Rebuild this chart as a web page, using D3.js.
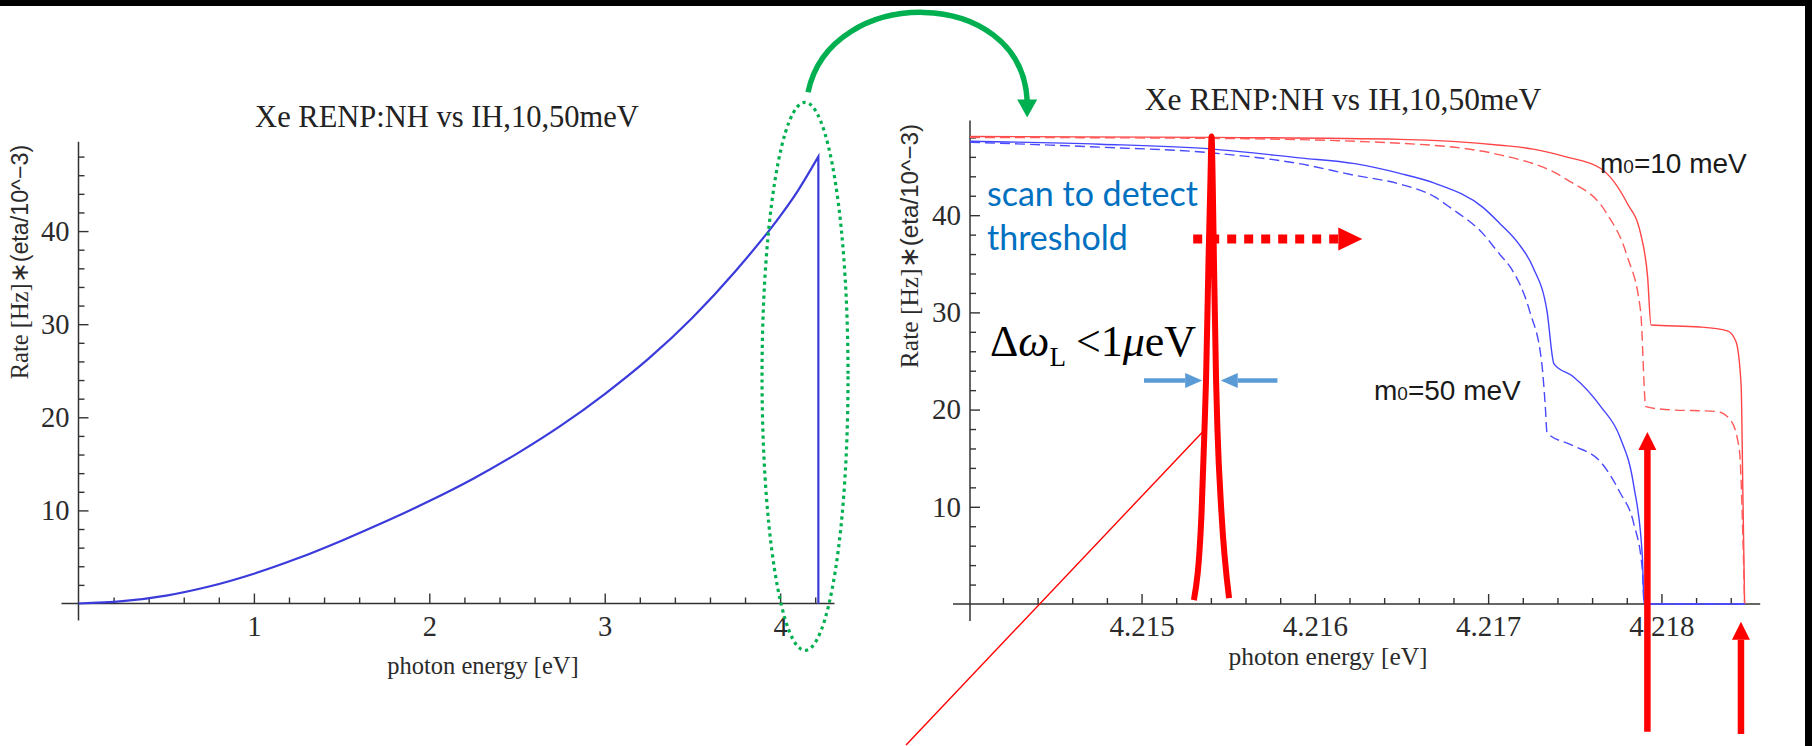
<!DOCTYPE html>
<html>
<head>
<meta charset="utf-8">
<script src="https://cdn.jsdelivr.net/npm/d3@7"></script>
<style>
html,body{margin:0;padding:0;background:#fff;}
svg{display:block;}
</style>
</head>
<body>
<svg id="chart" width="1812" height="746"></svg>
<script>
// ---- data: left panel (whole spectrum) ----
const leftEnergy = [0, 0.25, 0.5, 0.75, 1.0, 1.25, 1.5, 1.75, 2.0, 2.25, 2.5, 2.75, 3.0, 3.25, 3.5, 3.75, 4.0, 4.1, 4.218];
const leftRate   = [0, 0.25, 0.85, 1.85, 3.2, 4.85, 6.75, 8.8, 11.0, 13.4, 16.1, 19.1, 22.5, 26.3, 30.7, 35.8, 41.6, 44.3, 48.0];
const leftEdge   = 4.218;

// ---- data: right panel (close-up at the end point) ----
// red solid, m0 = 10 meV
const red10E = [4.21401, 4.21541, 4.21649, 4.21707, 4.21726, 4.21745, 4.21765, 4.21780, 4.21788, 4.21792, 4.21794, 4.21822, 4.21838, 4.21843, 4.21846, 4.21847, 4.21848];
const red10R = [48.1, 48.0, 47.8, 47.2, 46.8, 46.0, 44.8, 41.3, 38.1, 33.7, 28.7, 28.5, 28.1, 27.0, 22.5, 11.4, 0];
// red dashed, m0 = 10 meV
const red10dE = [4.21401, 4.21541, 4.21649, 4.21707, 4.21745, 4.21768, 4.21780, 4.21788, 4.21791, 4.21803, 4.21832, 4.21840, 4.21845, 4.21847, 4.21848];
const red10dR = [48.0, 47.9, 47.4, 46.2, 43.7, 40.3, 35.9, 30.1, 20.3, 20.0, 19.8, 18.9, 15.8, 6.9, 0];
// blue solid, m0 = 50 meV
const blue50E = [4.21401, 4.21476, 4.21541, 4.21591, 4.21623, 4.21649, 4.21669, 4.21697, 4.21707, 4.21717, 4.21726, 4.21734, 4.21738, 4.21749, 4.21765, 4.21776, 4.21784, 4.21789, 4.21790, 4.21848];
const blue50R = [47.6, 47.3, 46.8, 45.9, 45.3, 44.3, 43.3, 40.8, 39.1, 37.2, 34.6, 30.1, 24.7, 23.4, 20.3, 17.2, 12.2, 4.9, 0, 0];
// blue dashed, m0 = 50 meV
const blue50dE = [4.21401, 4.21476, 4.21541, 4.21591, 4.21623, 4.21649, 4.21669, 4.21678, 4.21697, 4.21707, 4.21713, 4.21724, 4.21731, 4.21733, 4.21734, 4.21749, 4.21765, 4.21776, 4.21784, 4.21789, 4.21790, 4.21848];
const blue50dR = [47.5, 47.0, 46.4, 45.3, 44.1, 43.2, 41.9, 40.8, 38.1, 35.9, 34.6, 30.1, 24.7, 20.3, 17.6, 16.3, 14.6, 11.5, 8.3, 3.5, 0, 0];

// laser line profile
const laserE = [4.215302, 4.215346, 4.215363, 4.215372, 4.215386, 4.215398, 4.215404, 4.215410, 4.215418, 4.215430, 4.215438, 4.215461, 4.215505];
const laserR = [0.4, 9.3, 17.9, 23.0, 35.0, 44.0, 48.1, 44.0, 35.0, 23.0, 17.9, 9.4, 0.6];

// ticks
const leftXTicks = [1, 2, 3, 4];
const leftYTicks = [10, 20, 30, 40];
const rightXTicks = [4.215, 4.216, 4.217, 4.218];
const rightYTicks = [10, 20, 30, 40];

const titleText = 'Xe RENP:NH vs IH,10,50meV';

const serif = '"Liberation Serif", "Times New Roman", serif';
const sans = '"Liberation Sans", Arial, sans-serif';

const svg = d3.select('#chart');

const xL = d3.scaleLinear().domain([0, 4.31]).range([78.5, 834.5]);
const yL = d3.scaleLinear().domain([0, 49.6]).range([603.5, 141.7]);
const xR = d3.scaleLinear().domain([4.21401, 4.21857]).range([970, 1760.2]);
const yR = d3.scaleLinear().domain([0, 49.75]).range([604, 120.4]);

function drawAxes(p){
    let g = svg.append('g').attr('color', '#333');
    let y0 = p.y(0), x0 = p.x.range()[0];

    g.append('line')
        .attr('x1', x0 - p.over).attr('x2', p.x.range()[1])
        .attr('y1', y0).attr('y2', y0)
        .attr('stroke', 'currentColor').attr('stroke-width', 1.5);
    g.append('line')
        .attr('x1', x0).attr('x2', x0)
        .attr('y1', p.y.range()[1]).attr('y2', y0 + p.over)
        .attr('stroke', 'currentColor').attr('stroke-width', 1.5);

    // minor ticks
    g.append('g').attr('transform', 'translate(0,' + y0 + ')')
        .call(d3.axisBottom(p.x).tickValues(p.xMinor).tickFormat('').tickSizeInner(-6).tickSizeOuter(0))
        .call(a => a.select('.domain').remove());
    g.append('g').attr('transform', 'translate(' + x0 + ',0)')
        .call(d3.axisLeft(p.y).tickValues(p.yMinor).tickFormat('').tickSizeInner(-6).tickSizeOuter(0))
        .call(a => a.select('.domain').remove());

    // major ticks with labels
    g.append('g').attr('transform', 'translate(0,' + y0 + ')')
        .call(d3.axisBottom(p.x).tickValues(p.xMajor).tickFormat(p.xFmt).tickSizeInner(-10).tickSizeOuter(0).tickPadding(p.xPad))
        .call(a => a.select('.domain').remove())
        .attr('font-family', serif).attr('font-size', p.fs);
    g.append('g').attr('transform', 'translate(' + x0 + ',0)')
        .call(d3.axisLeft(p.y).tickValues(p.yMajor).tickFormat(d3.format('d')).tickSizeInner(-10).tickSizeOuter(0).tickPadding(9))
        .call(a => a.select('.domain').remove())
        .attr('font-family', serif).attr('font-size', p.fs);

    g.selectAll('.tick line').attr('stroke-width', 1.4);
    g.selectAll('.tick text').attr('fill', '#2b2b2b');
}

// left panel axes
drawAxes({
    x: xL, y: yL, over: 17, fs: 28.5, xPad: 12,
    xMajor: leftXTicks, xFmt: d3.format('d'),
    xMinor: d3.range(1, 22).map(i => i * 0.2).filter((d, i) => (i + 1) % 5 != 0),
    yMajor: leftYTicks,
    yMinor: d3.range(1, 25).map(i => i * 2).filter(d => d % 10 != 0)
});
// right panel axes
drawAxes({
    x: xR, y: yR, over: 17, fs: 29, xPad: 11,
    xMajor: rightXTicks, xFmt: d3.format('.3f'),
    xMinor: d3.range(1, 23).filter(i => i % 5 != 0).map(i => 4.214 + i * 0.0002),
    yMajor: rightYTicks,
    yMinor: d3.range(1, 25).map(i => i * 2).filter(d => d % 10 != 0)
});

// titles
svg.append('text').attr('x', 447).attr('y', 127)
    .attr('text-anchor', 'middle').attr('font-family', serif).attr('font-size', 30.5).attr('fill', '#222')
    .text(titleText);
svg.append('text').attr('x', 1343).attr('y', 110)
    .attr('text-anchor', 'middle').attr('font-family', serif).attr('font-size', 31.5).attr('fill', '#222')
    .text(titleText);

// axis labels
function xLabel(x, y, fs){
    svg.append('text').attr('x', x).attr('y', y)
        .attr('text-anchor', 'middle').attr('font-family', serif).attr('font-size', fs).attr('fill', '#2b2b2b')
        .text('photon energy [eV]');
}
function yLabel(x, y, fs){
    let t = svg.append('text')
        .attr('transform', 'translate(' + x + ',' + y + ') rotate(-90)')
        .attr('text-anchor', 'middle').attr('font-size', fs).attr('fill', '#2b2b2b')
        .attr('dy', '0.35em');
    t.append('tspan').attr('font-family', serif).text('Rate [Hz]\u2217');
    t.append('tspan').attr('font-family', sans).attr('font-size', fs * 0.95).text('(eta/10^\u22123)');
}
xLabel(483, 674, 24.5);
xLabel(1328, 665, 25.5);
yLabel(19, 262, 24.5);
yLabel(909, 246, 25.5);

// ---- left curve ----
let leftPts = leftEnergy.map((e, i) => [e, leftRate[i]]);
let lineL = d3.line().x(d => xL(d[0])).y(d => yL(d[1])).curve(d3.curveMonotoneX);
svg.append('path')
    .attr('d', lineL(leftPts) + 'L' + xL(leftEdge) + ',' + yL(0))
    .attr('fill', 'none').attr('stroke', '#3b3bdc').attr('stroke-width', 2.2);

// ---- right curves ----
let lineR = d3.line().x(d => xR(d[0])).y(d => yR(d[1])).curve(d3.curveMonotoneX);
let series = [
    {e: red10E, r: red10R, color: '#ff4545', dash: null},
    {e: red10dE, r: red10dR, color: '#ff5a5a', dash: '10,5'},
    {e: blue50E, r: blue50R, color: '#4545ff', dash: null},
    {e: blue50dE, r: blue50dR, color: '#4a4aff', dash: '10,5'}
];
svg.append('g').selectAll('path').data(series)
    .enter().append('path')
    .attr('d', s => lineR(s.e.map((e, i) => [e, s.r[i]])))
    .attr('fill', 'none')
    .attr('stroke', s => s.color)
    .attr('stroke-width', 1.4)
    .attr('stroke-dasharray', s => s.dash);

// ---- annotations ----
// thin red pointer line
svg.append('line')
    .attr('x1', xR(4.213641)).attr('y1', yR(-14.5))
    .attr('x2', xR(4.215363)).attr('y2', yR(17.9))
    .attr('stroke', '#ff0000').attr('stroke-width', 1.4);

// laser line
svg.append('path')
    .attr('d', lineR(laserE.map((e, i) => [e, laserR[i]])))
    .attr('fill', 'none').attr('stroke', '#ff0000').attr('stroke-width', 6)
    .attr('stroke-linejoin', 'round');

// scan text
let scan = svg.append('text').attr('font-family', 'Lato, "Open Sans", sans-serif')
    .attr('font-size', 34).attr('fill', '#0070c0');
scan.append('tspan').attr('x', 987).attr('y', 206).text('scan to detect');
scan.append('tspan').attr('x', 987).attr('y', 249.5).text('threshold');

// red dotted arrow
let dotY = yR(37.55);
svg.append('line')
    .attr('x1', xR(4.215298)).attr('x2', xR(4.216134))
    .attr('y1', dotY).attr('y2', dotY)
    .attr('stroke', '#ff0000').attr('stroke-width', 9).attr('stroke-dasharray', '9,8');
let tipX = xR(4.216274);
svg.append('path')
    .attr('d', 'M' + tipX + ',' + dotY + 'L' + (tipX - 24) + ',' + (dotY - 11.5) + 'L' + (tipX - 24) + ',' + (dotY + 11.5) + 'Z')
    .attr('fill', '#ff0000');

// delta omega label
let dw = svg.append('text').attr('x', 990).attr('y', 356)
    .attr('font-family', serif).attr('font-size', 44).attr('fill', '#000');
dw.append('tspan').text('\u0394');
dw.append('tspan').attr('font-style', 'italic').text('\u03c9');
dw.append('tspan').attr('font-size', 27).attr('dy', 10).text('L');
dw.append('tspan').attr('dy', -10).attr('dx', 10).text('<1');
dw.append('tspan').attr('font-style', 'italic').text('\u03bc');
dw.append('tspan').text('eV');

// blue width arrows
function hArrow(x1, x2, y, color, w, hl, hw){
    let dir = Math.sign(x2 - x1);
    svg.append('line').attr('x1', x1).attr('x2', x2 - dir * hl).attr('y1', y).attr('y2', y)
        .attr('stroke', color).attr('stroke-width', w);
    svg.append('path')
        .attr('d', 'M' + x2 + ',' + y + 'L' + (x2 - dir * hl) + ',' + (y - hw) + 'L' + (x2 - dir * hl) + ',' + (y + hw) + 'Z')
        .attr('fill', color);
}
let bwY = yR(23.0);
hArrow(xR(4.215014), xR(4.215350), bwY, '#5b9bd5', 4.5, 17, 7.5);
hArrow(xR(4.215784), xR(4.215457), bwY, '#5b9bd5', 4.5, 17, 7.5);

// curve labels
function massLabel(x, y, val){
    let t = svg.append('text').attr('x', x).attr('y', y)
        .attr('font-family', sans).attr('font-size', 28).attr('fill', '#1a1a1a');
    t.append('tspan').text('m');
    t.append('tspan').attr('font-size', 19).text('0');
    t.append('tspan').text('=' + val + ' meV');
}
massLabel(1600, 172.5, 10);
massLabel(1374, 400, 50);

// threshold arrows (vertical, pointing up)
function vArrow(x, yBottom, yTip, color, w, hl, hw){
    svg.append('line').attr('x1', x).attr('x2', x).attr('y1', yBottom).attr('y2', yTip + hl)
        .attr('stroke', color).attr('stroke-width', w);
    svg.append('path')
        .attr('d', 'M' + x + ',' + yTip + 'L' + (x - hw) + ',' + (yTip + hl) + 'L' + (x + hw) + ',' + (yTip + hl) + 'Z')
        .attr('fill', color);
}
vArrow(xR(4.217919), yR(-13.14), yR(17.7), '#ff0000', 6.5, 18, 9);
vArrow(xR(4.218459), yR(-13.37), yR(-1.82), '#ff0000', 6.5, 18, 9);

// green dotted ellipse around the end point of the left spectrum
let ell = {cx: xL(4.142), cy: yL(24.4), rx: 43, ry: 274};
svg.append('ellipse')
    .attr('cx', ell.cx).attr('cy', ell.cy).attr('rx', ell.rx).attr('ry', ell.ry)
    .attr('fill', 'none').attr('stroke', '#00b050').attr('stroke-width', 3.2)
    .attr('stroke-dasharray', '3.2,3.8');

// green curved arrow to the zoomed panel
let a0 = [ell.cx + 3, ell.cy - ell.ry - 10];
let a1 = [xR(4.21434), yR(50.05)];
let aEnd = a1[1] - 17;
svg.append('path')
    .attr('d', 'M' + a0[0] + ',' + a0[1] +
        ' C' + (a0[0] + 22) + ',' + (a0[1] - 108) + ' ' + (a1[0] - 6) + ',' + (aEnd - 116) + ' ' + a1[0] + ',' + aEnd)
    .attr('fill', 'none').attr('stroke', '#00b050').attr('stroke-width', 5.5);
svg.append('path')
    .attr('d', 'M' + a1[0] + ',' + a1[1] + 'L' + (a1[0] - 10) + ',' + (a1[1] - 18) + 'L' + (a1[0] + 10) + ',' + (a1[1] - 18) + 'Z')
    .attr('fill', '#00b050');

// black frame edges of the slide
svg.append('rect').attr('x', 0).attr('y', 0).attr('width', 1812).attr('height', 6).attr('fill', '#000');
svg.append('rect').attr('x', 1805).attr('y', 0).attr('width', 7).attr('height', 746).attr('fill', '#000');
</script>
</body>
</html>
